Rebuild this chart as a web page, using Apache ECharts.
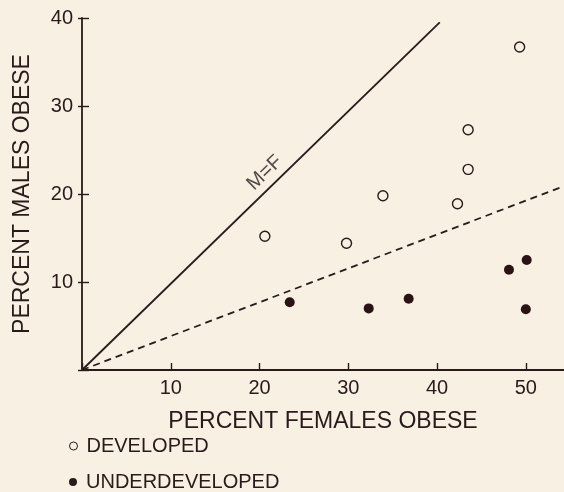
<!DOCTYPE html>
<html>
<head>
<meta charset="utf-8">
<script src="https://cdn.jsdelivr.net/npm/echarts@6/dist/echarts.min.js"></script>
<style>
html, body { margin: 0; padding: 0; background: #f7f0e3; }
#chart { width: 564px; height: 492px; }
</style>
</head>
<body>
<div id="chart"></div>
<script>
// percent females obese (x), percent males obese (y)
var developed = [[20.6, 15.2], [29.8, 14.4], [33.9, 19.8], [42.3, 18.9], [43.5, 22.8], [43.5, 27.3], [49.3, 36.7]];
var underdeveloped = [[23.4, 7.7], [32.3, 7.0], [36.8, 8.1], [48.1, 11.4], [50.1, 12.5], [50.0, 6.9]];
var lineMF = [[0, 0], [40.3, 39.5]];
var lineDash = [[0, 0], [54.3, 20.9]];
var labelMF = [[20.6, 22.4]];

var ink = '#2a1a1a';
var font = 'Liberation Sans, Arial, sans-serif';

function legendBox(name, top, style) {
	return {
		orient: 'vertical',
		left: 64,
		top: top,
		itemWidth: 8,
		itemHeight: 8,
		textStyle: { color: ink, fontSize: 20, fontFamily: font, padding: [0, 0, 0, 4] },
		data: [{ name: name, icon: 'circle', itemStyle: style }]
	};
}

window.onload = function() {
	var myChart = echarts.init(document.getElementById('chart'));
	var hideZero = function(v) { return v == 0 ? '' : v; };
	var option = {
		backgroundColor: '#f7f0e3',
		animation: false,
		grid: { left: 82, right: 0, top: 18, bottom: 122 },
		legend: [
			legendBox('DEVELOPED', 431, { color: '#f7f0e3', borderColor: ink, borderWidth: 1 }),
			legendBox('UNDERDEVELOPED', 467, { color: ink })
		],
		xAxis: {
			type: 'value',
			min: 0,
			max: 54.3,
			interval: 10,
			name: 'PERCENT FEMALES OBESE',
			nameLocation: 'middle',
			nameGap: 40,
			nameTextStyle: { color: ink, fontSize: 23, fontFamily: font },
			splitLine: { show: false },
			axisLine: { lineStyle: { color: ink, width: 1.8 } },
			axisTick: { inside: true, length: 7, lineStyle: { color: ink, width: 1.4 } },
			axisLabel: { color: ink, fontSize: 20, fontFamily: font, margin: 8, formatter: hideZero, showMaxLabel: false }
		},
		yAxis: [{
			type: 'value',
			min: 0,
			max: 40,
			interval: 10,
			name: 'PERCENT MALES OBESE',
			nameLocation: 'middle',
			nameGap: 48,
			nameTextStyle: { color: ink, fontSize: 23, fontFamily: font },
			splitLine: { show: false },
			axisLine: { lineStyle: { color: ink, width: 1.8 } },
			axisTick: { length: 4, lineStyle: { color: ink, width: 1.4 } },
			axisLabel: { color: ink, fontSize: 20, fontFamily: font, margin: 9, formatter: hideZero }
		}, {
			type: 'value',
			position: 'left',
			min: 0,
			max: 40,
			interval: 10,
			splitLine: { show: false },
			axisLine: { show: false },
			axisTick: { inside: true, length: 7, lineStyle: { color: ink, width: 1.4 } },
			axisLabel: { show: false }
		}],
		series: [{
			type: 'line',
			data: lineMF,
			showSymbol: false,
			lineStyle: { color: ink, width: 1.8 },
			silent: true
		}, {
			type: 'line',
			data: lineDash,
			showSymbol: false,
			lineStyle: { color: ink, width: 1.8, type: [7, 5] },
			silent: true
		}, {
			type: 'scatter',
			data: labelMF,
			symbolSize: 0,
			label: { show: true, position: 'inside', formatter: 'M=F', rotate: 44, color: ink, fontSize: 20, fontFamily: font },
			silent: true
		}, {
			name: 'DEVELOPED',
			type: 'scatter',
			data: developed,
			symbol: 'circle',
			symbolSize: 10,
			itemStyle: { color: '#f7f0e3', borderColor: ink, borderWidth: 1.4, opacity: 1 }
		}, {
			name: 'UNDERDEVELOPED',
			type: 'scatter',
			data: underdeveloped,
			symbol: 'circle',
			symbolSize: 10,
			itemStyle: { color: '#2a1313', opacity: 1 }
		}]
	};
	myChart.setOption(option);
};
</script>
</body>
</html>
